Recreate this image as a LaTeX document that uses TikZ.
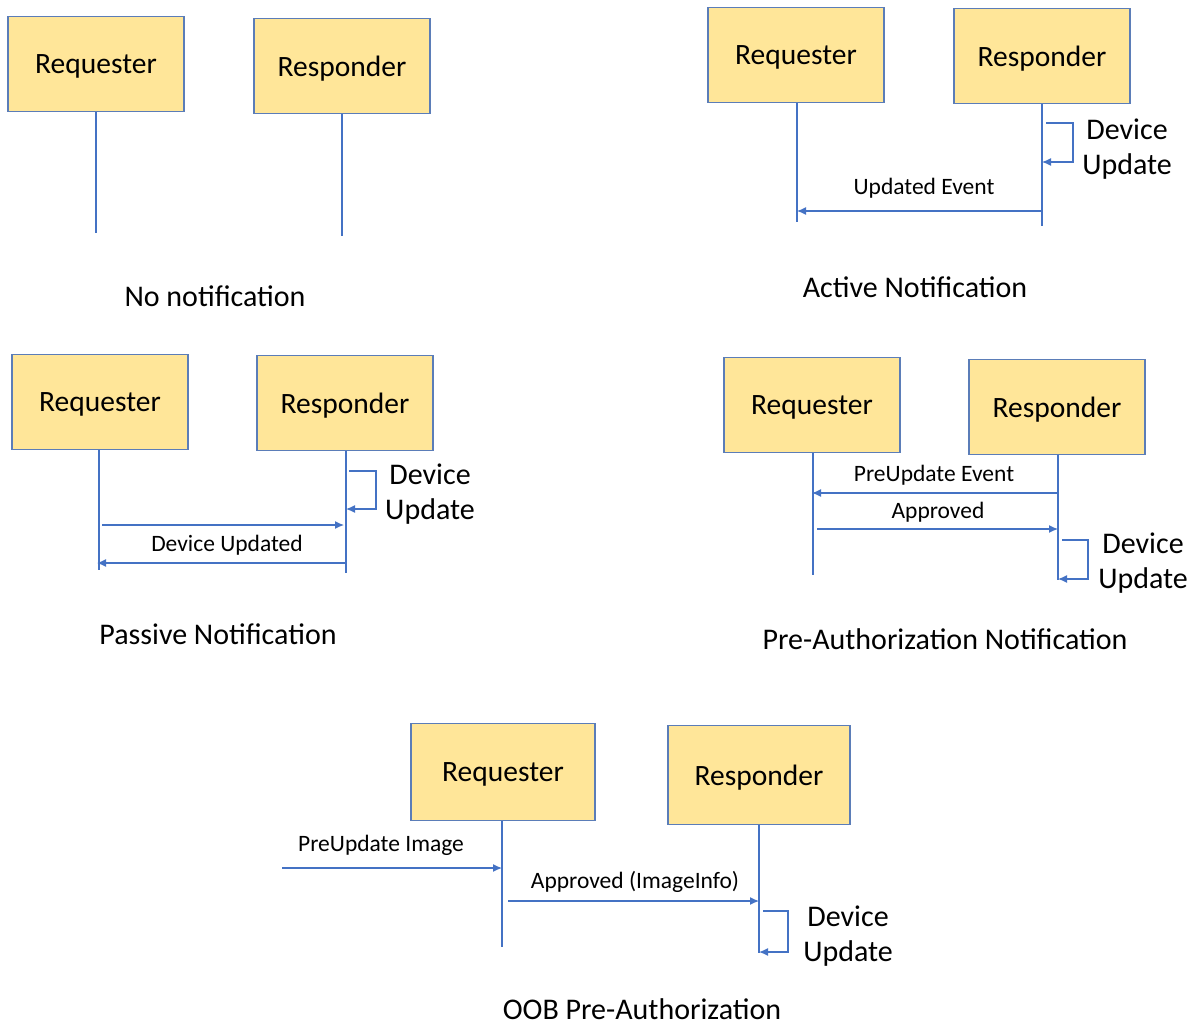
\documentclass[tikz,border=0pt]{standalone}
\usepackage{fontspec}
\setmainfont{Carlito}
\usetikzlibrary{arrows.meta}
\definecolor{boxfill}{HTML}{FFE699}
\definecolor{boxline}{HTML}{5B7DB8}
\definecolor{lineblue}{HTML}{4472C4}

\begin{document}
\begin{tikzpicture}[x=1pt,y=-1pt,
  actor_node/.style={rectangle,draw=boxline,fill=boxfill,line width=1.2pt,inner sep=0pt,text depth=0pt,minimum width=176pt,minimum height=95pt,font=\fontsize{29.5}{33}\selectfont},
  life_line/.style={draw=lineblue,line width=1.2pt},
  msg/.style={draw=lineblue,line width=1.2pt,-{Latex[length=9pt,width=8pt]}},
  msg_label/.style={font=\fontsize{23.5}{26}\selectfont},
  side_label/.style={font=\fontsize{30}{35}\selectfont,align=center},
  caption/.style={inner sep=0pt,font=\fontsize{30}{33}\selectfont}]

    \useasboundingbox (0,0) rectangle (1194,1026);

    % no notification
    \node[actor_node] (req1) at (96, 64) {Requester};
    \node[actor_node] (resp1) at (342, 66) {Responder};
    \coordinate (req1end) at (96, 233);
    \coordinate (resp1end) at (342, 236);
    \draw[life_line] (req1) -- (req1end);
    \draw[life_line] (resp1) -- (resp1end);
    \node[caption] (cap1) at (215, 296) {No notification};

    % active notification
    \node[actor_node] (req2) at (796, 55) {Requester};
    \node[actor_node] (resp2) at (1042, 56) {Responder};
    \coordinate (req2end) at (797, 222);
    \coordinate (resp2end) at (1042, 226);
    \draw[life_line] (req2.south -| req2end) -- (req2end);
    \draw[life_line] (resp2) -- (resp2end);
    \coordinate (a2) at (1046, 123);
    \coordinate (b2) at (1042, 162);
    \draw[msg] (a2) -- (1073, 123) -- (1073, 162) -- (b2);
    \node[side_label] (upd2) at (1127, 149) {Device\\Update};
    \coordinate (c2) at (1042, 211);
    \coordinate (d2) at (797, 211);
    \draw[msg] (c2) -- (d2);
    \node[msg_label] (ev2) at (924, 188) {Updated Event};
    \node[caption] (cap2) at (915, 287) {Active Notification};

    % passive notification
    \node[actor_node] (req3) at (100, 402) {Requester};
    \node[actor_node] (resp3) at (345, 403) {Responder};
    \coordinate (req3end) at (99, 570);
    \coordinate (resp3end) at (346, 573);
    \draw[life_line] (req3.south -| req3end) -- (req3end);
    \draw[life_line] (resp3.south -| resp3end) -- (resp3end);
    \coordinate (a3) at (349, 471);
    \coordinate (b3) at (346, 509);
    \draw[msg] (a3) -- (376, 471) -- (376, 509) -- (b3);
    \node[side_label] (upd3) at (430, 494) {Device\\Update};
    \coordinate (c3) at (102, 525);
    \coordinate (d3) at (344, 525);
    \draw[msg] (c3) -- (d3);
    \coordinate (e3) at (346, 563);
    \coordinate (f3) at (97, 563);
    \draw[msg] (e3) -- (f3);
    \node[msg_label] (ev3) at (227, 545) {Device Updated};
    \node[caption] (cap3) at (218, 634) {Passive Notification};

    % pre-authorization notification
    \node[actor_node] (req4) at (812, 405) {Requester};
    \node[actor_node] (resp4) at (1057, 407) {Responder};
    \coordinate (req4end) at (813, 575);
    \coordinate (resp4end) at (1058, 580);
    \draw[life_line] (req4.south -| req4end) -- (req4end);
    \draw[life_line] (resp4.south -| resp4end) -- (resp4end);
    \coordinate (a4) at (1058, 493);
    \coordinate (b4) at (812, 493);
    \draw[msg] (a4) -- (b4);
    \node[msg_label] (ev4) at (934, 475) {PreUpdate Event};
    \coordinate (c4) at (817, 529);
    \coordinate (d4) at (1058, 529);
    \draw[msg] (c4) -- (d4);
    \node[msg_label] (ok4) at (938, 512) {Approved};
    \coordinate (e4) at (1062, 540);
    \coordinate (f4) at (1058, 579);
    \draw[msg] (e4) -- (1088, 540) -- (1088, 579) -- (f4);
    \node[side_label] (upd4) at (1143, 563) {Device\\Update};
    \node[caption] (cap4) at (945, 639) {Pre-Authorization Notification};

    % oob pre-authorization
    \node[actor_node, minimum width=184pt, minimum height=97pt] (req5) at (503, 772) {Requester};
    \node[actor_node, minimum width=182pt, minimum height=99pt] (resp5) at (759, 775) {Responder};
    \coordinate (req5end) at (502, 947);
    \coordinate (resp5end) at (759, 953);
    \draw[life_line] (req5.south -| req5end) -- (req5end);
    \draw[life_line] (resp5) -- (resp5end);
    \coordinate (a5) at (282, 868);
    \coordinate (b5) at (502, 868);
    \draw[msg] (a5) -- (b5);
    \node[msg_label] (img5) at (381, 845) {PreUpdate Image};
    \coordinate (c5) at (508, 901);
    \coordinate (d5) at (759, 901);
    \draw[msg] (c5) -- (d5);
    \node[msg_label] (ok5) at (635, 882) {Approved (ImageInfo)};
    \coordinate (e5) at (763, 911);
    \coordinate (f5) at (759, 952);
    \draw[msg] (e5) -- (788, 911) -- (788, 952) -- (f5);
    \node[side_label] (upd5) at (848, 936) {Device\\Update};
    \node[caption] (cap5) at (642, 1009) {OOB Pre-Authorization};

\end{tikzpicture}
\end{document}
